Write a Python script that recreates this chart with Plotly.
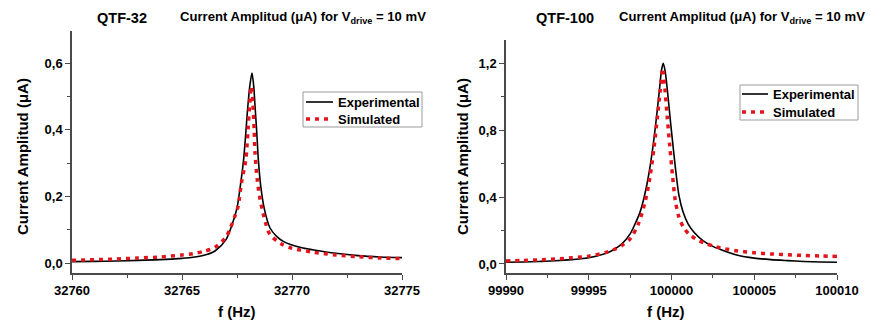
import plotly.graph_objects as go

# ---- QTF-32 resonance (f in Hz, current amplitude in uA) ----
f32_exp = [32760.0, 32761.0, 32762.0, 32763.0, 32764.0, 32765.0, 32765.5, 32766.0,
           32766.5, 32767.0, 32767.3, 32767.5, 32767.65, 32767.8, 32767.9, 32767.98,
           32768.08, 32768.18, 32768.26, 32768.33, 32768.4, 32768.47, 32768.58,
           32768.75, 32769.0, 32769.3, 32769.6, 32770.0, 32770.5, 32771.0, 32772.0,
           32773.0, 32774.0, 32775.0]
i32_exp = [0.004, 0.005, 0.006, 0.008, 0.010, 0.014, 0.017, 0.023,
           0.036, 0.070, 0.120, 0.165, 0.23, 0.31, 0.39, 0.46,
           0.53, 0.57, 0.53, 0.46, 0.39, 0.31, 0.23,
           0.16, 0.105, 0.080, 0.065, 0.054, 0.045, 0.039, 0.029,
           0.022, 0.018, 0.016]

f32_sim = [32760.0, 32761.0, 32762.0, 32763.0, 32764.0, 32765.0, 32765.5, 32766.0,
           32766.5, 32767.0, 32767.2, 32767.4, 32767.55, 32767.7, 32767.9, 32768.0,
           32768.08, 32768.15, 32768.22, 32768.28, 32768.32, 32768.42, 32768.55,
           32768.65, 32768.8, 32769.0, 32769.5, 32770.0, 32771.0, 32772.0, 32773.0,
           32774.0, 32775.0]
i32_sim = [0.008, 0.010, 0.012, 0.015, 0.018, 0.024, 0.028, 0.035,
           0.047, 0.078, 0.105, 0.140, 0.17, 0.24, 0.31, 0.40,
           0.48, 0.53, 0.48, 0.40, 0.33, 0.25, 0.19,
           0.16, 0.12, 0.085, 0.058, 0.044, 0.032, 0.024, 0.019,
           0.015, 0.013]

# ---- QTF-100 resonance ----
f100_exp = [99990.0, 99991.0, 99992.0, 99993.0, 99994.0, 99995.0, 99996.0, 99996.5,
            99997.0, 99997.5, 99997.8, 99998.1, 99998.35, 99998.6, 99998.85, 99999.05,
            99999.25, 99999.4, 99999.5, 99999.62, 99999.77, 99999.95, 100000.12,
            100000.3, 100000.45, 100000.7, 100001.0, 100001.4, 100001.9, 100002.5,
            100003.0, 100004.0, 100005.0, 100006.0, 100007.0, 100008.0, 100009.0,
            100010.0]
i100_exp = [0.010, 0.012, 0.015, 0.019, 0.026, 0.037, 0.062, 0.085,
            0.12, 0.18, 0.24, 0.31, 0.40, 0.52, 0.68, 0.84,
            1.02, 1.16, 1.20, 1.15, 1.02, 0.84, 0.68,
            0.52, 0.41, 0.31, 0.24, 0.185, 0.14, 0.105,
            0.085, 0.052, 0.035, 0.026, 0.020, 0.015, 0.012,
            0.010]

f100_sim = [99990.0, 99991.0, 99992.0, 99993.0, 99994.0, 99995.0, 99996.0, 99996.5,
            99997.0, 99997.5, 99998.0, 99998.4, 99998.7, 99998.95, 99999.15, 99999.32,
            99999.47, 99999.6, 99999.74, 99999.9, 100000.06, 100000.23, 100000.45,
            100000.75, 100001.1, 100001.5, 100002.0, 100002.5, 100003.0, 100004.0,
            100005.0, 100006.0, 100007.0, 100008.0, 100009.0, 100010.0]
i100_sim = [0.018, 0.021, 0.025, 0.030, 0.037, 0.047, 0.068, 0.085,
            0.11, 0.15, 0.24, 0.37, 0.52, 0.70, 0.88, 1.04,
            1.17, 1.05, 0.88, 0.70, 0.53, 0.38, 0.28,
            0.215, 0.175, 0.148, 0.125, 0.108, 0.095, 0.078,
            0.067, 0.060, 0.055, 0.051, 0.048, 0.045]

series_names = ["Experimental", "Simulated"]

W, H = 871, 323
FONT = "Liberation Sans, Arial, sans-serif"
AXIS_COLOR = "#4a4a4a"
RED = "#e3141c"
SIM_DASH = "4px,5px"


def px_x(p):
    return p / W


def px_y(p):
    return 1 - p / H


fig = go.Figure()

exp_line = dict(color="black", width=1.6, shape="spline", smoothing=0.8)
sim_line = dict(color=RED, width=3.5, dash=SIM_DASH, shape="spline", smoothing=0.8)

for xs, ys, line, name, xa, ya in [
    (f32_exp, i32_exp, exp_line, series_names[0], "x", "y"),
    (f32_sim, i32_sim, sim_line, series_names[1], "x", "y"),
    (f100_exp, i100_exp, exp_line, series_names[0], "x2", "y2"),
    (f100_sim, i100_sim, sim_line, series_names[1], "x2", "y2"),
]:
    fig.add_trace(go.Scatter(x=xs, y=ys, mode="lines", name=name, line=line,
                             xaxis=xa, yaxis=ya, showlegend=False))

tick_font = dict(family=FONT, size=13, color="black", weight="bold")

common_axis = dict(
    showline=True, linecolor=AXIS_COLOR, linewidth=1.5, showgrid=False, zeroline=False,
    ticks="outside", ticklen=5, tickwidth=1.2, tickcolor=AXIS_COLOR,
    tickfont=tick_font, mirror=False, automargin=False,
)


def minor(step, start):
    return dict(ticks="outside", dtick=step, tick0=start, ticklen=3,
                tickcolor=AXIS_COLOR, tickwidth=1)


fig.update_layout(
    width=W, height=H, autosize=False,
    margin=dict(l=0, r=0, t=0, b=0, pad=0, autoexpand=False),
    paper_bgcolor="white", plot_bgcolor="white",
    separators=",.",
    font=dict(family=FONT, color="black"),
    showlegend=False,
    xaxis=dict(**common_axis, domain=[px_x(72), px_x(402)], range=[32760, 32775],
               dtick=5, tick0=32760, tickformat="d", anchor="y", minor=minor(2.5, 32760)),
    yaxis=dict(**common_axis, domain=[px_y(273), px_y(31)], range=[-0.03, 0.696],
               dtick=0.2, tick0=0, tickformat=".1f", anchor="x", minor=minor(0.1, 0)),
    xaxis2=dict(**common_axis, domain=[px_x(506), px_x(837)], range=[99990, 100010],
                dtick=5, tick0=99990, tickformat="d", anchor="y2", minor=minor(2.5, 99990)),
    yaxis2=dict(**common_axis, domain=[px_y(273), px_y(40)], range=[-0.054, 1.339],
                dtick=0.4, tick0=0, tickformat=".1f", anchor="x2", minor=minor(0.2, 0)),
)

title_font = dict(family=FONT, size=14.5, color="black", weight="bold")
head_font = dict(family=FONT, size=13.1, color="black", weight="bold")
axis_title_font = dict(family=FONT, size=15, color="black", weight="bold")
legend_font = dict(family=FONT, size=13, color="black", weight="bold")

ann = []
shapes = []
# Panel headers
ann.append(dict(text="QTF-32", x=px_x(122), y=px_y(18), font=title_font))
ann.append(dict(text="Current Amplitud (\u03bcA) for V<sub>drive</sub> = 10 mV",
                x=px_x(178), y=px_y(18), xanchor="left", font=head_font))
ann.append(dict(text="QTF-100", x=px_x(565), y=px_y(18), font=title_font))
ann.append(dict(text="Current Amplitud (\u03bcA) for V<sub>drive</sub> = 10 mV",
                x=px_x(617), y=px_y(18), xanchor="left", font=head_font))
# Axis titles
for xc in (22, 462):
    ann.append(dict(text="Current Amplitud (\u03bcA)", x=px_x(xc), y=px_y(157),
                    textangle=-90, font=axis_title_font))
ann.append(dict(text="f (Hz)", x=px_x(237), y=px_y(311), font=axis_title_font))
ann.append(dict(text="f (Hz)", x=px_x(666), y=px_y(311), font=axis_title_font))

# Legend boxes: (box x0, x1, y0, y1, sample x0, x1, row y centers, text x)
legend_boxes = [
    (303, 422, 92, 127, 306, 333, (102, 119), 336),
    (740, 858, 85, 120, 742, 768, (94, 112), 771),
]
for bx0, bx1, by0, by1, sx0, sx1, rows, tx in legend_boxes:
    shapes.append(dict(type="rect", xref="paper", yref="paper",
                       x0=px_x(bx0), x1=px_x(bx1), y0=px_y(by1), y1=px_y(by0),
                       line=dict(color="#9a9a9a", width=1), fillcolor="white", layer="above"))
    styles = [dict(color="black", width=1.6), dict(color=RED, width=3.5, dash=SIM_DASH)]
    for name, ry, st in zip(series_names, rows, styles):
        shapes.append(dict(type="line", xref="paper", yref="paper",
                           x0=px_x(sx0), x1=px_x(sx1), y0=px_y(ry), y1=px_y(ry),
                           line=st, layer="above"))
        ann.append(dict(text=name, x=px_x(tx), y=px_y(ry), xanchor="left",
                        font=legend_font))

for a in ann:
    a.setdefault("xanchor", "center")
    a.update(xref="paper", yref="paper", yanchor="middle", showarrow=False)
fig.update_layout(annotations=ann, shapes=shapes)

fig.write_html("out.html")
